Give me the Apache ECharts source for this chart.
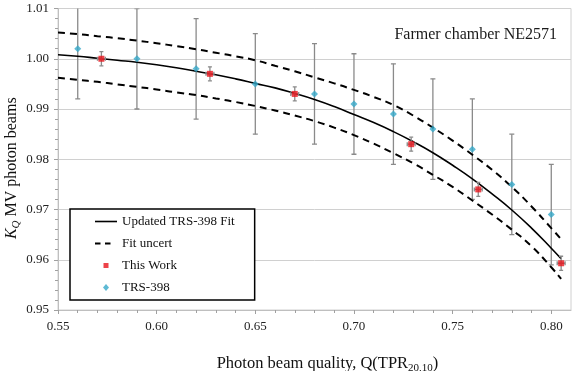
<!DOCTYPE html>
<html>
<head>
<meta charset="utf-8">
<script src="https://cdn.jsdelivr.net/npm/echarts@6/dist/echarts.min.js"></script>
<style>
html,body{margin:0;padding:0;background:#fff;}
#chart{width:575px;height:371px;}
</style>
</head>
<body>
<div id="chart"></div>
<script>
// Fitted curve (Updated TRS-398 Fit)
const fitQ = [0.55, 0.56, 0.57, 0.58, 0.59, 0.60, 0.61, 0.62, 0.63, 0.64, 0.65, 0.66, 0.67, 0.68, 0.69, 0.70, 0.71, 0.72, 0.73, 0.74, 0.75, 0.76, 0.77, 0.78, 0.79, 0.80, 0.805];
const fitK = [1.0008, 1.0005, 1.0001, 0.9997, 0.9993, 0.9988, 0.9982, 0.9975, 0.9968, 0.9960, 0.9951, 0.9942, 0.9931, 0.9919, 0.9905, 0.9889, 0.9873, 0.9855, 0.9835, 0.9813, 0.9788, 0.9761, 0.9731, 0.9699, 0.9663, 0.9623, 0.9602];
// Fit uncertainty bands (same Q grid)
const upperK = [1.0052, 1.0049, 1.0045, 1.0041, 1.0036, 1.0031, 1.0025, 1.0019, 1.0012, 1.0005, 0.9997, 0.9986, 0.9975, 0.9963, 0.9951, 0.9938, 0.9924, 0.9908, 0.9887, 0.9863, 0.9837, 0.9809, 0.9779, 0.9745, 0.9706, 0.9663, 0.9641];
const lowerK = [0.9962, 0.9958, 0.9954, 0.9949, 0.9944, 0.9939, 0.9933, 0.9928, 0.9921, 0.9914, 0.9906, 0.9897, 0.9887, 0.9876, 0.9863, 0.9848, 0.9831, 0.9812, 0.9792, 0.9769, 0.9745, 0.9718, 0.9690, 0.9660, 0.9627, 0.9585, 0.9562];
// This Work
const workQ = [0.572, 0.627, 0.670, 0.729, 0.763, 0.805];
const workK = [1.000, 0.997, 0.993, 0.983, 0.974, 0.9593];
const workErrK = 0.0014;
const workErrQ = 0.002;
// TRS-398
const trsQ = [0.56, 0.59, 0.62, 0.65, 0.68, 0.70, 0.72, 0.74, 0.76, 0.78, 0.80];
const trsK = [1.002, 1.000, 0.998, 0.995, 0.993, 0.991, 0.989, 0.986, 0.982, 0.975, 0.969];
const trsErr = 0.01;
// Axis ticks
const xTicks = [0.55, 0.60, 0.65, 0.70, 0.75, 0.80];

const FONT = "'Liberation Serif', 'Times New Roman', serif";
const zip = (a, b) => a.map((v, i) => [v, b[i]]);

const chart = echarts.init(document.getElementById('chart'), null, {renderer: 'canvas'});

function errRender(capPx, color) {
  return function (params, api) {
    const x = api.value(0), y = api.value(1);
    const ey = api.value(2), ex = api.value(3);
    const children = [];
    const top = api.coord([x, y + ey]), bot = api.coord([x, y - ey]);
    const st = {stroke: color, lineWidth: 1.3};
    children.push({type: 'line', shape: {x1: top[0], y1: top[1], x2: bot[0], y2: bot[1]}, style: st});
    children.push({type: 'line', shape: {x1: top[0] - capPx, y1: top[1], x2: top[0] + capPx, y2: top[1]}, style: st});
    children.push({type: 'line', shape: {x1: bot[0] - capPx, y1: bot[1], x2: bot[0] + capPx, y2: bot[1]}, style: st});
    if (ex > 0) {
      const l = api.coord([x - ex, y]), r = api.coord([x + ex, y]);
      children.push({type: 'line', shape: {x1: l[0], y1: l[1], x2: r[0], y2: r[1]}, style: st});
      children.push({type: 'line', shape: {x1: l[0], y1: l[1] - capPx, x2: l[0], y2: l[1] + capPx}, style: st});
      children.push({type: 'line', shape: {x1: r[0], y1: r[1] - capPx, x2: r[0], y2: r[1] + capPx}, style: st});
    }
    return {type: 'group', children};
  };
}

const option = {
  backgroundColor: '#fff',
  animation: false,
  title: {
    text: 'Farmer chamber NE2571',
    right: 13, top: 22,
    textStyle: {fontFamily: FONT, fontSize: 16, fontWeight: 'normal', color: '#1a1a1a'}
  },
  grid: {left: 58, right: 4, top: 8.5, bottom: 61, show: true, borderColor: '#d0d0d0', borderWidth: 1, outerBoundsMode: 'none', containLabel: false},
  legend: {
    orient: 'vertical',
    left: 70, top: 209,
    data: [
      {name: 'Updated TRS-398 Fit', icon: 'path://M0,0M22,8M0,3.2H22V4.8H0Z'},
      {name: 'Fit uncert', icon: 'path://M0,0M22,8M0,3H5.5V5H0ZM10,3H15.5V5H10Z'},
      {name: 'This Work', icon: 'path://M0,0M22,8M8.5,1.5H13.5V6.5H8.5Z'},
      {name: 'TRS-398', icon: 'path://M0,0M22,8M11,0.6L14,4L11,7.4L8,4Z'}
    ],
    backgroundColor: '#fff',
    borderColor: '#000', borderWidth: 1.5,
    padding: [5, 20, 5, 25],
    itemWidth: 22, itemHeight: 8, itemGap: 7,
    itemStyle: {borderWidth: 0},
    lineStyle: {width: 0},
    textStyle: {fontFamily: FONT, fontSize: 13, color: '#111', lineHeight: 15},
    z: 10
  },
  xAxis: {
    type: 'value', min: 0.55, max: 0.81, interval: 0.05,
    name: '{a|Photon beam quality, Q(TPR}{s|20,10}{a|)}',
    nameLocation: 'middle', nameGap: 44,
    nameTextStyle: {
      padding: [0, 0, 0, 26],
      rich: {
        a: {fontFamily: FONT, fontSize: 16.5, color: '#111', lineHeight: 20},
        s: {fontFamily: FONT, fontSize: 11, color: '#111', verticalAlign: 'bottom', lineHeight: 14, padding: [6, 0, 0, 0]}
      }
    },
    axisLine: {show: true, lineStyle: {color: '#bfbfbf', width: 1}},
    axisTick: {show: true, length: 4, lineStyle: {color: '#a0a0a0'}, customValues: xTicks},
    minorTick: {show: true, splitNumber: 5, length: 3, lineStyle: {color: '#a0a0a0'}},
    axisLabel: {customValues: xTicks, formatter: v => v.toFixed(2), fontFamily: FONT, fontSize: 13, color: '#222', margin: 10},
    splitLine: {show: false}
  },
  yAxis: {
    type: 'value', min: 0.95, max: 1.01, interval: 0.01,
    name: '{i|K}{si|Q}{a| MV photon beams}',
    nameLocation: 'middle', nameRotate: 90, nameGap: 36,
    nameMoveOverlap: false,
    nameTextStyle: {
      padding: [0, 18, 0, 0],
      rich: {
        a: {fontFamily: FONT, fontSize: 16, color: '#111', lineHeight: 20},
        i: {fontFamily: FONT, fontSize: 16, fontStyle: 'italic', color: '#111', lineHeight: 20},
        si: {fontFamily: FONT, fontSize: 11, fontStyle: 'italic', color: '#111', verticalAlign: 'bottom', lineHeight: 14, padding: [6, 0, 0, 0]}
      }
    },
    axisLine: {show: true, lineStyle: {color: '#bfbfbf', width: 1}},
    axisTick: {show: true, length: 4, lineStyle: {color: '#a0a0a0'}},
    minorTick: {show: true, splitNumber: 5, length: 3, lineStyle: {color: '#a0a0a0'}},
    axisLabel: {formatter: v => v.toFixed(2), fontFamily: FONT, fontSize: 13, color: '#222', margin: 9},
    splitLine: {show: true, lineStyle: {color: '#d0d0d0', width: 1}}
  },
  series: [
    {
      name: 'Updated TRS-398 Fit', type: 'line', data: zip(fitQ, fitK), smooth: true,
      symbol: 'none', lineStyle: {color: '#000', width: 1.6}, itemStyle: {color: '#000'}, z: 3
    },
    {
      name: 'Fit uncert', type: 'line', data: zip(fitQ, upperK), smooth: true,
      symbol: 'none', lineStyle: {color: '#000', width: 2, type: [7, 5]}, itemStyle: {color: '#000'}, z: 3
    },
    {
      name: 'Fit uncert', type: 'line', data: zip(fitQ, lowerK), smooth: true,
      symbol: 'none', lineStyle: {color: '#000', width: 2, type: [7, 5]}, itemStyle: {color: '#000'}, z: 3
    },
    {
      name: 'trsErr', type: 'custom', clip: true, z: 2,
      data: trsQ.map((q, i) => [q, trsK[i], trsErr, 0]),
      renderItem: errRender(2.5, '#8a8a8a')
    },
    {
      name: 'workErr', type: 'custom', clip: true, z: 4,
      data: workQ.map((q, i) => [q, workK[i], workErrK, workErrQ]),
      renderItem: errRender(2, '#8a8a8a')
    },
    {
      name: 'This Work', type: 'scatter', data: zip(workQ, workK),
      symbol: 'rect', symbolSize: 6, itemStyle: {color: '#e8141c'}, z: 5
    },
    {
      name: 'TRS-398', type: 'scatter', data: zip(trsQ, trsK),
      symbol: 'diamond', symbolSize: 7, itemStyle: {color: '#36a9c9'}, z: 5
    }
  ]
};
chart.setOption(option);
</script>
</body>
</html>
